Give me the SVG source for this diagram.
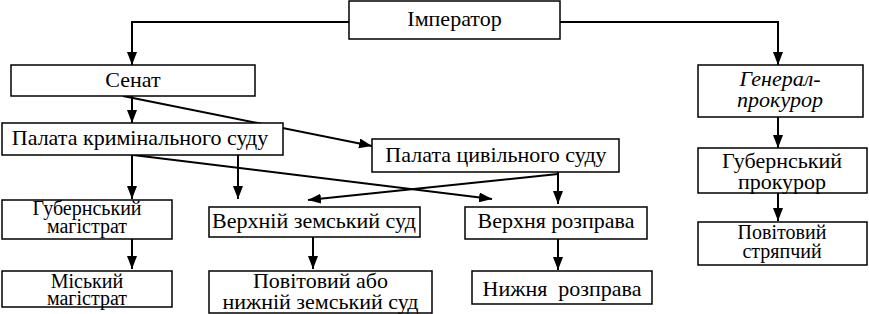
<svg xmlns="http://www.w3.org/2000/svg" width="869" height="314" viewBox="0 0 869 314">
<style>
.box{fill:#fff;stroke:#000;stroke-width:1.5}
.t{font-family:'Liberation Serif','Times New Roman','DejaVu Serif',serif;font-size:22px;fill:#000;text-anchor:middle}
.s{font-size:20px}
.i{font-style:italic}
.c{fill:none;stroke:#000;stroke-width:2}
</style>
<defs>
<marker id="ah" markerUnits="userSpaceOnUse" markerWidth="13" markerHeight="10" refX="13" refY="5" orient="auto" viewBox="0 0 13 10">
<path d="M0,0 L13,5 L0,10 z" fill="#000"/>
</marker>
</defs>
<g id="connectors">
<path class="c" d="M349,22 H132 V65" marker-end="url(#ah)"/>
<path class="c" d="M560,22 H778 V65" marker-end="url(#ah)"/>
<path class="c" d="M132,96 V123" marker-end="url(#ah)"/>
<path class="c" d="M123,96 L372,146" marker-end="url(#ah)"/>
<path class="c" d="M132,155 V199" marker-end="url(#ah)"/>
<path class="c" d="M238,155 V199" marker-end="url(#ah)"/>
<path class="c" d="M133,155 L492,199" marker-end="url(#ah)"/>
<path class="c" d="M558,174 L308,200" marker-end="url(#ah)"/>
<path class="c" d="M558,172 V204" marker-end="url(#ah)"/>
<path class="c" d="M313,237 V269" marker-end="url(#ah)"/>
<path class="c" d="M558,239 V270" marker-end="url(#ah)"/>
<path class="c" d="M132,239 V269" marker-end="url(#ah)"/>
<path class="c" d="M778,117 V148" marker-end="url(#ah)"/>
<path class="c" d="M778,193 V221" marker-end="url(#ah)"/>
</g>
<g id="imperator"><rect class="box" x="349" y="1" width="211" height="38"/><text class="t" x="454.5" y="26">Імператор</text></g>
<g id="senat"><rect class="box" x="11" y="65" width="244" height="31"/><text class="t" x="133" y="87">Сенат</text></g>
<g id="palata-kryminalna"><rect class="box" x="2" y="123" width="281" height="32"/><text class="t" x="140" y="145">Палата кримінального суду</text></g>
<g id="palata-tsyvilna"><rect class="box" x="372" y="139" width="247" height="33"/><text class="t" x="496" y="162">Палата цивільного суду</text></g>
<g id="hubernskyi-mahistrat"><rect class="box" x="2" y="200" width="170" height="39"/><text class="t s" x="87" y="215">Губернський</text><text class="t s" x="87" y="233">магістрат</text></g>
<g id="verkhnii-zemskyi"><rect class="box" x="209" y="207" width="211" height="30"/><text class="t" x="314" y="228">Верхній земський суд</text></g>
<g id="verkhnia-rozprava"><rect class="box" x="465" y="207" width="182" height="32"/><text class="t" x="556" y="228">Верхня розправа</text></g>
<g id="miskyi-mahistrat"><rect class="box" x="2" y="271" width="170" height="36"/><text class="t s" x="87" y="288">Міський</text><text class="t s" x="87" y="305">магістрат</text></g>
<g id="povitovyi-sud"><rect class="box" x="209" y="271" width="223" height="42"/><text class="t" x="320.5" y="288">Повітовий або</text><text class="t" x="320.5" y="309">нижній земський суд</text></g>
<g id="nyzhnia-rozprava"><rect class="box" x="472" y="271" width="180" height="33"/><text class="t" x="562" y="296" xml:space="preserve">Нижня  розправа</text></g>
<g id="heneral-prokuror"><rect class="box" x="698" y="65" width="165" height="52"/><text class="t i" x="780" y="86">Генерал-</text><text class="t i" x="780" y="107">прокурор</text></g>
<g id="hubernskyi-prokuror"><rect class="box" x="698" y="148" width="169" height="45"/><text class="t" x="782" y="168">Губернський</text><text class="t" x="782" y="189">прокурор</text></g>
<g id="povitovyi-striapchyi"><rect class="box" x="698" y="222" width="169" height="43"/><text class="t s" x="782" y="239">Повітовий</text><text class="t s" x="782" y="258">стряпчий</text></g>
</svg>
